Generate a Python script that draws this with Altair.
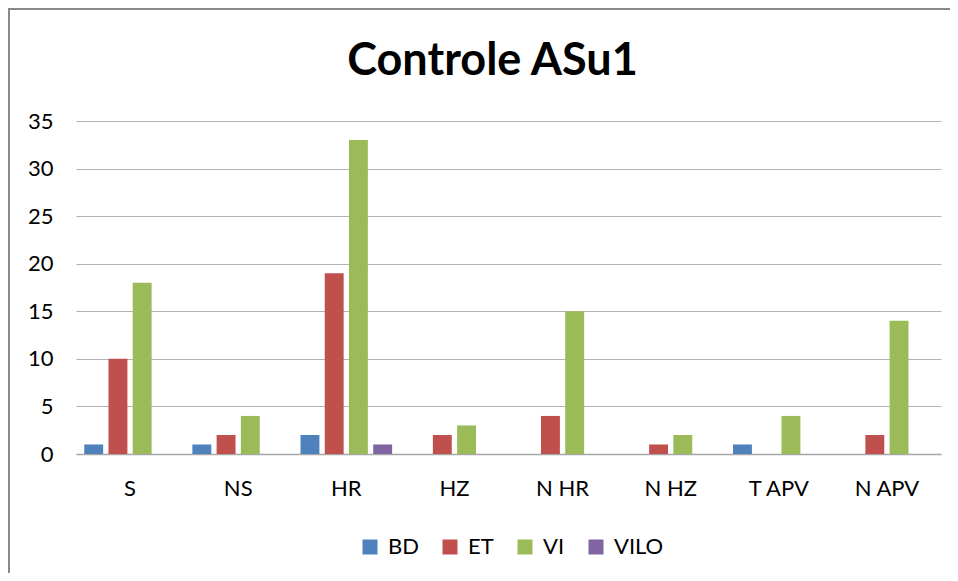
import altair as alt
import pandas as pd

categories = ["S", "NS", "HR", "HZ", "N HR", "N HZ", "T APV", "N APV"]
series = ["BD", "ET", "VI", "VILO"]
bd = [1, 1, 2, 0, 0, 0, 1, 0]
et = [10, 2, 19, 2, 4, 1, 0, 2]
vi = [18, 4, 33, 3, 15, 2, 4, 14]
vilo = [0, 0, 1, 0, 0, 0, 0, 0]
colors = ["#4F81BD", "#C0504D", "#9BBB59", "#8064A2"]
y_ticks = [0, 5, 10, 15, 20, 25, 30, 35]

rows = []
for name, vals in zip(series, [bd, et, vi, vilo]):
    for c, v in zip(categories, vals):
        rows.append({"cat": c, "series": name, "value": v})
df = pd.DataFrame(rows)

FONT = "Lato"

bars = alt.Chart(df).mark_bar().encode(
    x=alt.X("cat:N", sort=categories,
            scale=alt.Scale(paddingInner=0.09, paddingOuter=0.045),
            axis=alt.Axis(title=None, labelAngle=0, ticks=False, labelPadding=24,
                          labelFontSize=22, labelFont=FONT, labelColor="#000000",
                          domainColor="#A6A6A6", domainWidth=1.5)),
    xOffset=alt.XOffset("series:N", sort=series,
                        scale=alt.Scale(paddingInner=0.22, paddingOuter=0.14)),
    y=alt.Y("value:Q", scale=alt.Scale(domain=[0, 35], nice=False),
            axis=alt.Axis(title=None, values=y_ticks, ticks=False, domain=False,
                          labelPadding=23, labelFontSize=22, labelFont=FONT,
                          labelColor="#000000", gridColor="#B3B3B3", gridWidth=1.2)),
    color=alt.Color("series:N", sort=series,
                    scale=alt.Scale(domain=series, range=colors),
                    legend=alt.Legend(title=None, orient="none", direction="horizontal",
                                      legendX=283, legendY=415, symbolType="square",
                                      symbolSize=225, symbolStrokeWidth=0,
                                      labelFontSize=22, labelFont=FONT,
                                      labelColor="#000000", labelOffset=7,
                                      columnPadding=20)),
)

one = alt.Data(values=[{"a": 1}])
frame_left = alt.Chart(one).mark_rule(color="#8A8A8A", strokeWidth=2).encode(
    x=alt.value(-67), y=alt.value(-112), y2=alt.value(460))
frame_top = alt.Chart(one).mark_rule(color="#8A8A8A", strokeWidth=2).encode(
    x=alt.value(-68), x2=alt.value(880), y=alt.value(-112))

chart = alt.layer(frame_left, frame_top, bars).properties(
    width=865, height=333,
    autosize=alt.AutoSizeParams(type="none"),
    padding={"left": 68, "top": 113, "right": 9, "bottom": 119},
    title=alt.TitleParams("Controle ASu1", font=FONT, fontSize=45, fontWeight="bold",
                          color="#000000", anchor="middle", dx=-16, offset=-112,
                          baseline="alphabetic"),
).configure_view(stroke=None)

chart.save("out.html", embed_options={"renderer": "svg", "actions": False})
